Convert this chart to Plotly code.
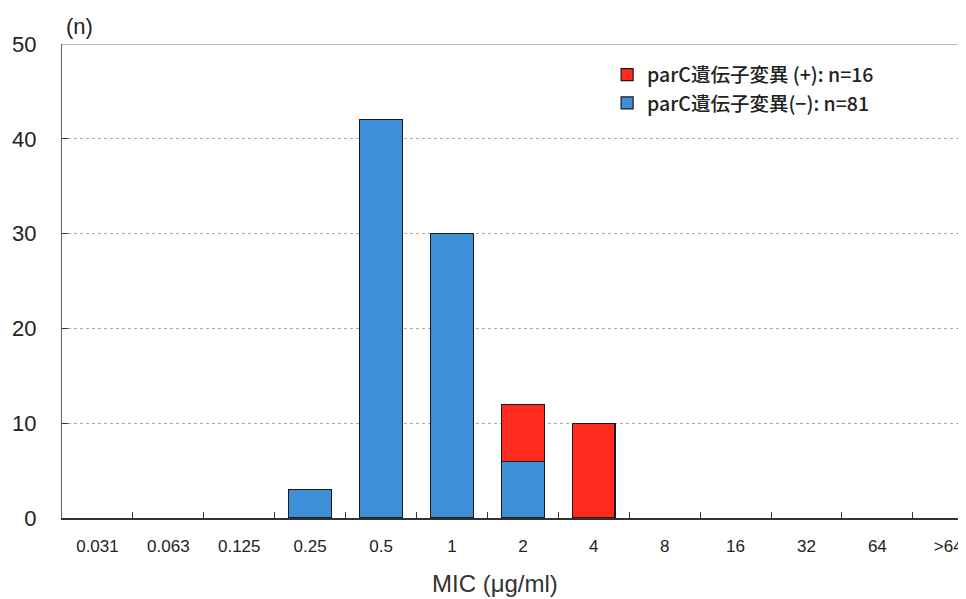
import plotly.graph_objects as go

categories = ["0.031", "0.063", "0.125", "0.25", "0.5", "1", "2", "4", "8", "16", "32", "64", ">64"]
neg_values = [None, None, None, 3, 42, 30, 6, None, None, None, None, None, None]
pos_values = [None, None, None, None, None, None, 6, 10, None, None, None, None, None]
neg_name = "parC遺伝子変異(−): n=81"
pos_name = "parC遺伝子変異 (+): n=16"
y_ticks = [0, 10, 20, 30, 40, 50]

fig = go.Figure()
fig.add_trace(go.Bar(x=categories, y=neg_values, name=neg_name,
                     marker=dict(color="#3d8fd8", line=dict(color="#1a1a1a", width=1.2)),
                     width=0.6))
fig.add_trace(go.Bar(x=categories, y=pos_values, name=pos_name,
                     marker=dict(color="#ff2b1c", line=dict(color="#1a1a1a", width=1.2)),
                     width=0.6))

fig.add_shape(type="line", xref="paper", yref="y", x0=0, x1=1, y0=50, y1=50,
              line=dict(color="#777777", width=1.2))

fig.add_annotation(text="(n)", xref="paper", yref="paper", x=0.0, y=1.0,
                   xanchor="left", yanchor="bottom", yshift=3, xshift=2, showarrow=False,
                   font=dict(size=22, color="#222222", family="Liberation Sans"))

fig.add_annotation(text="MIC (μg/ml)", xref="paper", yref="paper", x=0.479, y=0,
                   xanchor="center", yanchor="middle", yshift=-65, showarrow=False,
                   font=dict(size=24, color="#333333", family="Liberation Sans"))

fig.update_layout(
    width=958, height=591,
    margin=dict(l=54, r=0, t=36, b=81, autoexpand=False),
    paper_bgcolor="white", plot_bgcolor="white",
    barmode="stack",
    font=dict(family="Liberation Sans", color="#222222"),
    showlegend=True,
    legend=dict(x=0.603, y=0.976, xanchor="left", yanchor="top", traceorder="reversed",
                font=dict(size=19.5, family="Noto Sans CJK JP", color="#222222", weight=500),
                bgcolor="rgba(0,0,0,0)", itemwidth=30, tracegroupgap=2),
    xaxis=dict(range=[-0.5, 12.25], showline=True, linecolor="#333333", linewidth=1.5,
               automargin=False,
               ticks="inside", tickson="boundaries", ticklen=6, tickcolor="#333333",
               tickfont=dict(size=17, family="Liberation Sans", color="#222222"),
               ticklabelstandoff=12,
               showgrid=False, fixedrange=True),
    yaxis=dict(range=[0, 50], tickvals=y_ticks, showline=True, linecolor="#556677", linewidth=1.2,
               automargin=False,
               ticks="inside", ticklen=6, tickcolor="#333333",
               tickfont=dict(size=22, family="Liberation Sans", color="#222222"),
               ticklabelstandoff=20,
               showgrid=True, gridcolor="#aaaaaa", griddash="dot", gridwidth=1,
               zeroline=False),
)

fig.write_html("out.html")
